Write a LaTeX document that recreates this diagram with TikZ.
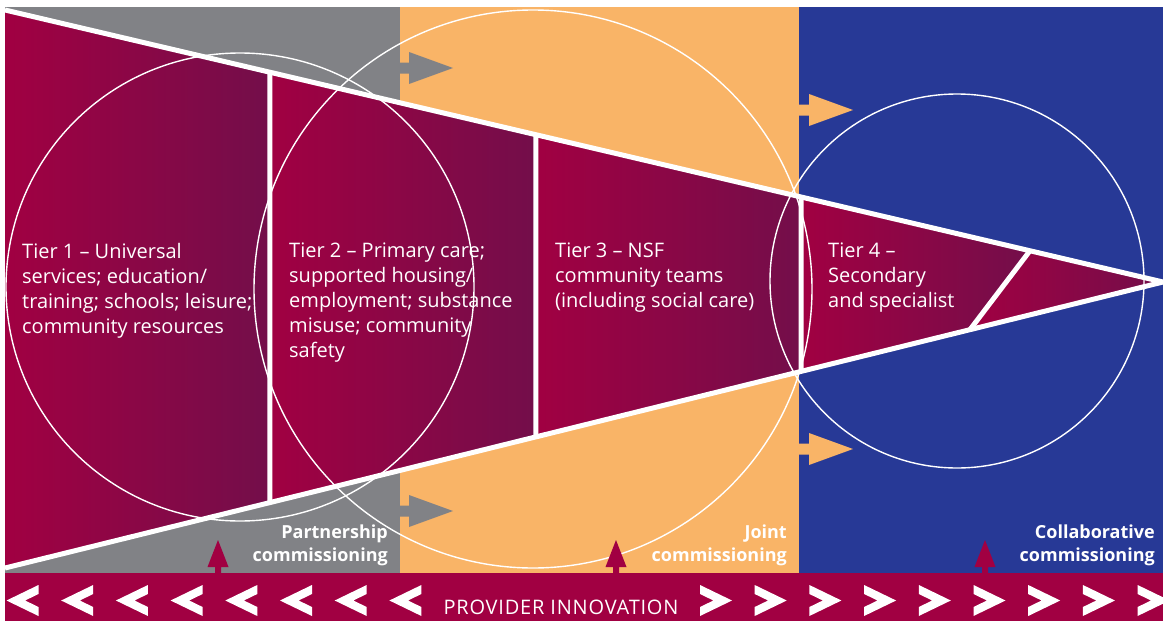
\documentclass[tikz,border=0pt]{standalone}
\usepackage{fontspec}
\setmainfont{Open Sans}
\usetikzlibrary{calc}

\definecolor{tiercrimson}{HTML}{A10042}
\definecolor{tierplum}{HTML}{730E4A}
\definecolor{partgray}{HTML}{818286}
\definecolor{jointorange}{HTML}{F9B467}
\definecolor{collabblue}{HTML}{273996}

\tikzset{
  tiershade/.style={left color=tiercrimson,right color=tierplum},
  whiteline/.style={white,line width=5pt},
  ring/.style={white,line width=1.4pt},
  tiertext/.style={text=white,align=left,anchor=north west,inner sep=0pt,
    font=\fontsize{20}{25}\selectfont},
  commtext/.style={text=white,align=right,anchor=north east,inner sep=0pt,
    font=\bfseries\fontsize{18}{23}\selectfont},
}

% block arrow to the right : colour, x, y
\newcommand{\flowarrow}[3]{%
  \fill[#1] (#2,#3) ++(-2,-5.5) -- ++(11,0) -- ++(0,-10.5) -- ++(44,16)
  -- ++(-44,16) -- ++(0,-10.5) -- ++(-11,0) -- cycle ;}
% arrow up from the bar : x
\newcommand{\raisearrow}[1]{%
  \fill[tiercrimson] (#1-3,575) -- (#1-3,567) -- (#1-10.5,567) -- (#1,540)
  -- (#1+10.5,567) -- (#1+3,567) -- (#1+3,575) -- cycle ;}

\begin{document}
\begin{tikzpicture}[x=1pt,y=-1pt]
        \useasboundingbox (0,0) rectangle (1163,621) ;
        \fill[white] (0,0) rectangle (1163,621) ;
        % commissioning panels
        \fill[partgray] (5,7) rectangle (400,573) ;
        \fill[jointorange] (400,7) rectangle (799,573) ;
        \fill[collabblue] (799,7) rectangle (1163,573) ;
        \fill[tiercrimson] (5,573) rectangle (1163,621) ;
        % the cone
        \coordinate (tl) at (5,10) ;
        \coordinate (bl) at (5,568) ;
        \coordinate (tip) at (1163,282) ;
        \coordinate (t1) at ($(tl)!0.2288!(tip)$) ;
        \coordinate (b1) at ($(bl)!0.2288!(tip)$) ;
        \coordinate (t2) at ($(tl)!0.4585!(tip)$) ;
        \coordinate (b2) at ($(bl)!0.4585!(tip)$) ;
        \coordinate (t3) at ($(tl)!0.6874!(tip)$) ;
        \coordinate (b3) at ($(bl)!0.6874!(tip)$) ;
        \coordinate (t4) at ($(tl)!0.8851!(tip)$) ;
        \coordinate (b4) at ($(bl)!0.8333!(tip)$) ;
        \shade[tiershade] (tl) -- (t1) -- (b1) -- (bl) -- cycle ;
        \shade[tiershade] (t1) -- (t2) -- (b2) -- (b1) -- cycle ;
        \shade[tiershade] (t2) -- (t3) -- (b3) -- (b2) -- cycle ;
        \shade[tiershade] (t3) -- (t4) -- (b4) -- (b3) -- cycle ;
        \shade[tiershade] (t4) -- (tip) -- (b4) -- cycle ;
        \draw[whiteline] (tl) -- (tip) -- (bl) ;
        \draw[whiteline] (t1) -- (b1) (t2) -- (b2) (t3) -- (b3) (t4) -- (b4) ;
        % circles
        \draw[ring] (240,287) circle (234) ;
        \draw[ring] (533,289) circle (279) ;
        \draw[ring] (957,281) circle (187) ;
        % arrows
        \flowarrow{partgray}{400}{68}
        \flowarrow{partgray}{400}{511}
        \flowarrow{jointorange}{800}{110}
        \flowarrow{jointorange}{800}{449}
        \foreach \x in {218,616,985} {\raisearrow{\x}}
        % chevrons in the bar
        \foreach \i in {0,...,7} {
          \pgfmathsetmacro{\cx}{22.5+54.7*\i}
          \fill[white] (\cx-16,600.5) -- (\cx+16,585) -- (\cx+16,594)
          -- (\cx+2.6,600.5) -- (\cx+16,607) -- (\cx+16,616) -- cycle ;
        }
        \foreach \i in {0,...,8} {
          \pgfmathsetmacro{\cx}{716+54.7*\i}
          \fill[white] (\cx+16,600.5) -- (\cx-16,585) -- (\cx-16,594)
          -- (\cx-2.6,600.5) -- (\cx-16,607) -- (\cx-16,616) -- cycle ;
        }
        % texts
        \node[tiertext] (tier1) at (22,243)
        {Tier 1 – Universal\\services; education/\\training; schools; leisure;\\community resources} ;
        \node[tiertext] (tier2) at (289,243)
        {Tier 2 – Primary care;\\supported housing/\\employment; substance\\misuse; community\\safety} ;
        \node[tiertext] (tier3) at (555,243)
        {Tier 3 – NSF\\community teams\\(including social care)} ;
        \node[tiertext] (tier4) at (828,243) {Tier 4 –\\Secondary\\and specialist} ;
        \node[commtext] (partner) at (388,525) {Partnership\\commissioning} ;
        \node[commtext] (joint) at (787,525) {Joint\\commissioning} ;
        \node[commtext] (collab) at (1155,525) {Collaborative\\commissioning} ;
        \node[text=white,font=\fontsize{20}{20}\selectfont\addfontfeature{LetterSpace=4}]
        (provider) at (561,607) {PROVIDER INNOVATION} ;
\end{tikzpicture}
\end{document}
